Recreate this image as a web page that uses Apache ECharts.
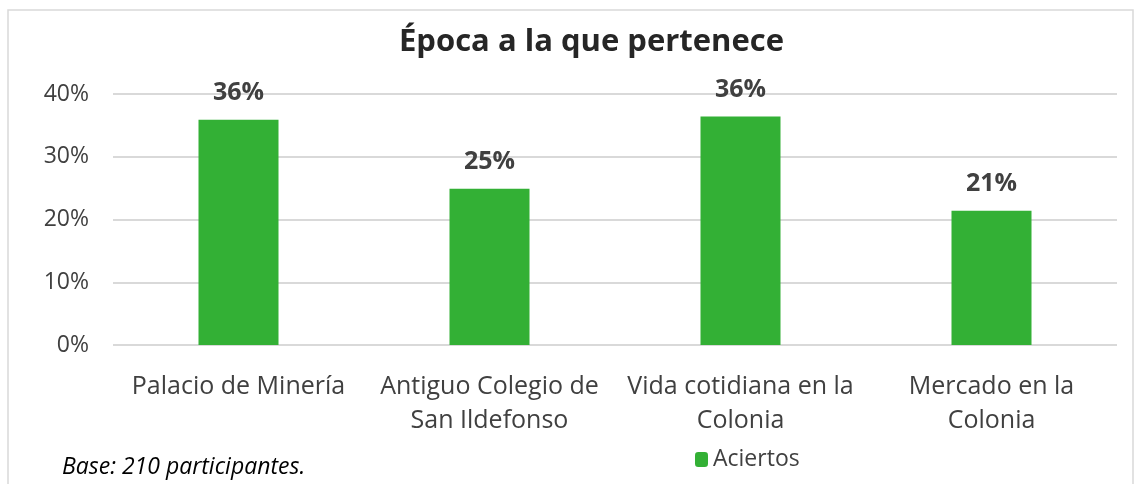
<!DOCTYPE html>
<html>
<head>
<meta charset="utf-8">
<script src="https://cdn.jsdelivr.net/npm/echarts@6/dist/echarts.min.js"></script>
<style>
html, body { margin: 0; padding: 0; background: #fff; }
#chart { width: 1142px; height: 484px; }
</style>
</head>
<body>
<div id="chart"></div>
<script>
var categories = ['Palacio de Minería', 'Antiguo Colegio de\nSan Ildefonso', 'Vida cotidiana en la\nColonia', 'Mercado en la\nColonia'];
var aciertos = [35.9, 24.9, 36.4, 21.4];
var yTicks = [0, 10, 20, 30, 40];

var myChart = echarts.init(document.getElementById('chart'));
var fontName = '"Open Sans", sans-serif';
var option =
{
    backgroundColor : '#fff',
    title :
    {
        text : 'Época a la que pertenece',
        left : 394,
        top : 22,
        textStyle : { fontFamily : fontName, fontSize : 31, fontWeight : 'bold', color : '#262626' }
    },
    legend :
    {
        data : ['Aciertos'],
        left : 690,
        top : 443,
        itemWidth : 13,
        itemHeight : 15,
        itemGap : 5,
        textStyle : { fontFamily : fontName, fontSize : 23, color : '#404040' }
    },
    grid : { left : 113, right : 25, top : 94, bottom : 139 },
    xAxis :
    {
        type : 'category',
        data : categories,
        axisLine : { show : false },
        axisTick : { show : false },
        axisLabel : { fontFamily : fontName, fontSize : 25, color : '#404040', lineHeight : 34, margin : 25, interval : 0 }
    },
    yAxis :
    {
        type : 'value',
        min : yTicks[0],
        max : yTicks[yTicks.length - 1],
        interval : 10,
        axisLabel : { fontFamily : fontName, fontSize : 23, color : '#404040', margin : 24, formatter : '{value}%' },
        splitLine : { lineStyle : { color : '#d9d9d9', width : 2 } },
        axisLine : { show : false },
        axisTick : { show : false }
    },
    graphic : [
        {
            type : 'rect',
            shape : { x : 8, y : 10, width : 1125, height : 500 },
            style : { fill : 'none', stroke : '#d9d9d9', lineWidth : 1.5 },
            silent : true
        },
        {
            type : 'text',
            left : 62,
            top : 456,
            style : { text : 'Base: 210 participantes.', fontFamily : fontName, fontSize : 23, fontStyle : 'italic', fill : '#000' }
        }
    ],
    series : [
        {
            name : 'Aciertos',
            type : 'bar',
            data : aciertos,
            barWidth : 80,
            itemStyle : { color : '#33b035' },
            label :
            {
                show : true,
                position : 'top',
                distance : 14,
                fontFamily : fontName,
                fontSize : 25,
                fontWeight : 'bold',
                color : '#404040',
                formatter : function (p) { return Math.round(p.value) + '%'; }
            }
        }
    ]
};
myChart.setOption(option);
</script>
</body>
</html>
